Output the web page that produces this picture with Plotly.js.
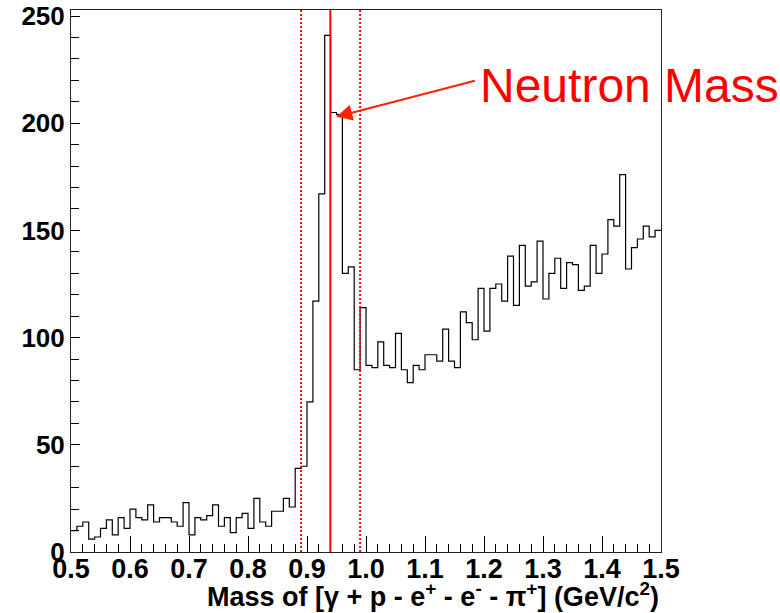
<!DOCTYPE html>
<html>
<head>
<meta charset="utf-8">
<script src="https://cdn.plot.ly/plotly-3.0.1.min.js"></script>
<style>html,body{margin:0;padding:0;background:#fff;}#plot{width:780px;height:613px;}</style>
</head>
<body>
<div id="plot"></div>
<script>
// Bin lower edges (GeV/c^2) and counts per bin
const binLow = [0.50,0.51,0.52,0.53,0.54,0.55,0.56,0.57,0.58,0.59,
                0.60,0.61,0.62,0.63,0.64,0.65,0.66,0.67,0.68,0.69,
                0.70,0.71,0.72,0.73,0.74,0.75,0.76,0.77,0.78,0.79,
                0.80,0.81,0.82,0.83,0.84,0.85,0.86,0.87,0.88,0.89,
                0.90,0.91,0.92,0.93,0.94,0.95,0.96,0.97,0.98,0.99,
                1.00,1.01,1.02,1.03,1.04,1.05,1.06,1.07,1.08,1.09,
                1.10,1.11,1.12,1.13,1.14,1.15,1.16,1.17,1.18,1.19,
                1.20,1.21,1.22,1.23,1.24,1.25,1.26,1.27,1.28,1.29,
                1.30,1.31,1.32,1.33,1.34,1.35,1.36,1.37,1.38,1.39,
                1.40,1.41,1.42,1.43,1.44,1.45,1.46,1.47,1.48,1.49];
const binWidth = 0.01;
const counts = [10,12,14,6,7,11,15,8,16,11,
                20,16,15,22,14,16,16,14,12,23,
                8,16,15,17,22,12,16,9,16,18,
                11,25,14,12,19,19,25,21,39,40,
                70,117,167,241,205,204,130,133,85,114,
                87,86,98,87,86,102,85,79,87,85,
                92,92,89,104,89,86,112,107,99,123,
                103,123,125,117,138,115,143,124,126,145,
                118,130,137,123,135,134,122,124,143,130,
                139,155,152,176,132,142,146,152,147,150];
const neutronMass = 0.9396;
const windowLow = 0.89;
const windowHigh = 0.99;
const xTitle = 'Mass of [γ + p - e<sup>+</sup> - e<sup>-</sup> - π<sup>+</sup>] (GeV/c<sup>2</sup>)';
const labelText = 'Neutron Mass';

// step outline built from the bins
const stepX = binLow.concat([binLow[binLow.length-1] + binWidth]);
const stepY = counts.concat([counts[counts.length-1]]);

const trace = {
  x: stepX, y: stepY, type: 'scatter', mode: 'lines',
  line: {shape: 'hv', color: '#000', width: 1.2},
  hoverinfo: 'skip', showlegend: false
};

const tickFont = {family: 'Liberation Sans, Arial, sans-serif', weight: 'bold', color: '#000'};

const layout = {
  width: 780, height: 613,
  margin: {l: 71, r: 119, t: 10, b: 61},
  paper_bgcolor: '#fff', plot_bgcolor: '#fff',
  showlegend: false,
  xaxis: {
    range: [0.5, 1.5], dtick: 0.1, tick0: 0.5, tickformat: '.1f',
    ticks: 'inside', ticklen: 16, tickwidth: 1, tickcolor: '#000',
    minor: {dtick: 0.02, ticks: 'inside', ticklen: 8, tickcolor: '#000', showgrid: false},
    showline: true, linecolor: '#222', linewidth: 1, mirror: true,
    showgrid: false, zeroline: false,
    ticklabelstandoff: -7,
    tickfont: Object.assign({size: 27}, tickFont)
  },
  yaxis: {
    range: [0, 252.8], dtick: 50, tick0: 0,
    ticks: 'inside', ticklen: 9, tickwidth: 1, tickcolor: '#000',
    minor: {dtick: 10, ticks: 'inside', ticklen: 8, tickcolor: '#000', showgrid: false},
    showline: true, linecolor: '#222', linewidth: 1, mirror: true,
    showgrid: false, zeroline: false,
    tickfont: Object.assign({size: 26}, tickFont)
  },
  shapes: [
    {type: 'line', xref: 'x', yref: 'paper', x0: neutronMass, x1: neutronMass, y0: 0, y1: 1,
     line: {color: '#ff0000', width: 2}},
    {type: 'line', xref: 'x', yref: 'paper', x0: windowLow, x1: windowLow, y0: 0, y1: 1,
     line: {color: '#ff0000', width: 2, dash: '2px,2px'}},
    {type: 'line', xref: 'x', yref: 'paper', x0: windowHigh, x1: windowHigh, y0: 0, y1: 1,
     line: {color: '#ff0000', width: 2, dash: '2px,2px'}}
  ],
  annotations: [
    {text: xTitle, xref: 'paper', yref: 'paper', x: 1, y: 0, xanchor: 'right', yanchor: 'middle',
     yshift: -43, showarrow: false,
     font: {family: 'Liberation Sans, Arial, sans-serif', weight: 'bold', size: 27, color: '#000'}},
    {text: labelText, xref: 'paper', yref: 'paper', x: 0.690, y: 0.86, xanchor: 'left', yanchor: 'middle',
     showarrow: false,
     font: {family: 'Liberation Sans, Arial, sans-serif', size: 48, color: '#ff0000'}},
    {text: '', xref: 'x', yref: 'y', x: 0.9497, y: 203, axref: 'x', ayref: 'y', ax: 1.187, ay: 220,
     showarrow: true, arrowhead: 2, arrowsize: 1.6, arrowwidth: 2, arrowcolor: '#ff2200', standoff: 0}
  ]
};

Plotly.newPlot('plot', [trace], layout, {staticPlot: true, displayModeBar: false});
</script>
</body>
</html>
